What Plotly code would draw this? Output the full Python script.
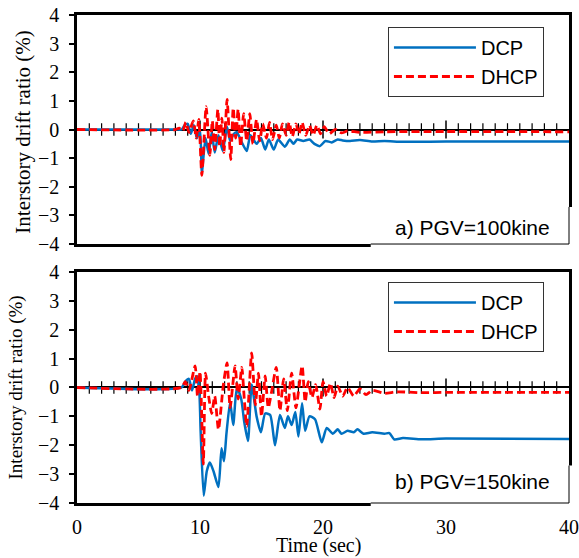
import plotly.graph_objects as go

# ---------------- data ----------------
# a) PGV = 100 kine
t_a_dcp = [0, 8.0, 8.5, 8.75, 9.0, 9.25, 9.5, 9.75, 10.0, 10.15,
           10.45, 10.7, 10.95, 11.2, 11.5, 11.85, 12.2, 12.45, 12.75, 13.0,
           13.4, 13.8, 14.1, 14.6, 14.95, 15.3, 15.6, 16.0, 16.35, 16.9,
           17.3, 17.6, 17.9, 18.4, 18.9, 19.3, 19.75, 20.2, 20.7, 21.2,
           21.6, 22.2, 23.0, 24.0, 25.0, 26.5, 30.0, 40.0]
v_a_dcp = [0, 0, 0.0, 0.15, 0.2, -0.15, 0.15, -0.3, 0.0, -1.5,
           -0.3, -0.85, -0.1, -0.8, -0.2, -0.75, 0.1, -0.4, -0.15, -0.1,
           -0.45, -0.75, -0.2, -0.5, -0.3, -0.7, -0.35, -0.7, -0.35, -0.6,
           -0.35, -0.5, -0.35, -0.4, -0.35, -0.5, -0.58, -0.4, -0.45, -0.35,
           -0.38, -0.4, -0.37, -0.42, -0.4, -0.43, -0.42, -0.42]

t_a_dhcp = [0, 8.0, 8.3, 8.6, 8.85, 9.1, 9.45, 9.7, 9.9, 10.15,
            10.5, 10.8, 11.0, 11.2, 11.45, 11.6, 11.78, 11.95, 12.2, 12.5,
            12.7, 12.9, 13.1, 13.3, 13.55, 13.8, 14.05, 14.3, 14.6, 14.85,
            15.1, 15.4, 15.65, 15.9, 16.2, 16.45, 16.7, 17.0, 17.25, 17.5,
            17.8, 18.05, 18.3, 18.6, 18.9, 19.2, 19.5, 19.8, 20.1, 20.5,
            21.0, 21.5, 22.0, 23.0, 25.0, 30.0, 40.0]
v_a_dhcp = [0, 0, 0.05, -0.05, 0.25, -0.1, 0.3, -0.3, 0.35, -1.6,
            0.8, -0.9, 0.3, -0.7, 0.7, -0.6, 0.4, -0.8, 1.05, -1.05,
            0.75, -0.3, 0.7, -0.6, 0.55, -0.4, 0.55, -0.5, 0.35, -0.4,
            0.2, -0.3, 0.25, -0.35, 0.15, -0.3, 0.2, -0.2, 0.25, -0.25,
            0.2, -0.15, 0.25, -0.2, 0.15, -0.2, 0.15, -0.15, 0.1, -0.15,
            0.0, -0.12, -0.05, -0.1, -0.08, -0.07, -0.08]

# b) PGV = 150 kine
t_b_dcp = [0, 8.5, 8.8, 9.1, 9.35, 9.6, 9.75, 9.95, 10.05, 10.3,
           10.55, 10.8, 11.1, 11.5, 11.75, 11.95, 12.15, 12.45, 12.7, 13.0,
           13.35, 13.6, 13.9, 14.2, 14.6, 14.95, 15.3, 15.7, 16.1, 16.5,
           16.9, 17.15, 17.45, 17.75, 18.0, 18.3, 18.55, 18.9, 19.35, 19.9,
           20.3, 20.8, 21.2, 21.5, 22.0, 22.5, 22.8, 23.3, 24.0, 25.0,
           25.4, 25.8, 26.5, 28.0, 30.0, 40.0]
v_b_dcp = [0, 0, 0.2, 0.3, -0.1, 0.3, 0.4, -0.2, -1.5, -3.75,
           -2.9, -2.6, -2.9, -3.45, -2.1, -2.55, -1.6, -0.5, -1.3, 0.0,
           -0.4, -1.2, -1.85, 0.1, -1.0, -1.55, -0.9, -0.95, -2.0, -0.95,
           -1.4, -1.0, -1.3, -0.85, -1.7, -0.55, -1.5, -1.0, -1.1, -1.9,
           -1.4, -1.6, -1.45, -1.6, -1.5, -1.55, -1.45, -1.6, -1.55, -1.6,
           -1.58, -1.8, -1.75, -1.79, -1.77, -1.78]

t_b_dhcp = [0, 8.5, 8.8, 9.1, 9.6, 9.8, 10.0, 10.27, 10.45, 10.7,
            10.95, 11.2, 11.5, 11.9, 12.2, 12.45, 12.85, 13.1, 13.4, 13.6,
            13.8, 14.2, 14.5, 14.75, 15.0, 15.3, 15.55, 15.8, 16.2, 16.5,
            16.8, 17.1, 17.45, 17.8, 18.3, 18.55, 18.8, 19.1, 19.4, 19.75,
            20.0, 20.3, 20.6, 20.9, 21.2, 21.6, 22.0, 22.5, 23.0, 23.5,
            24.0, 25.0, 26.0, 28.0, 30.0, 40.0]
v_b_dhcp = [0, 0.0, 0.2, -0.1, 0.75, -0.3, 0.55, -2.65, 0.5, -0.3,
            -0.9, -0.3, -1.45, 0.1, 0.85, -0.7, 0.75, -0.4, 0.7, -0.4,
            -1.35, 1.2, -0.6, 0.5, -1.0, 0.4, -0.7, -0.2, 0.7, -0.8,
            0.3, -0.8, 0.5, -0.7, 0.75, -0.5, 0.2, -0.35, 0.1, -0.75,
            0.2, -0.3, 0.15, -0.35, 0.05, -0.3, 0.0, -0.3, -0.05, -0.25,
            -0.1, -0.2, -0.15, -0.18, -0.17, -0.17]

x_ticks = [0, 10, 20, 30, 40]
y_ticks = [-4, -3, -2, -1, 0, 1, 2, 3, 4]
minor_ticks = [t for t in range(1, 40) if t % 10 != 0]
major_ticks = [10, 20, 30]
panel_labels = ["a) PGV=100kine", "b) PGV=150kine"]

BLUE = "#0070C0"
RED = "#FF0000"
SERIF = "Liberation Serif, Times New Roman, serif"
SANS = "Liberation Sans, Arial, sans-serif"

fig = go.Figure()

panels = [
    ("x", "y", "legend", t_a_dcp, v_a_dcp, t_a_dhcp, v_a_dhcp),
    ("x2", "y2", "legend2", t_b_dcp, v_b_dcp, t_b_dhcp, v_b_dhcp),
]
for xa, ya, lg, td, vd, th, vh in panels:
    # tick marks on the zero line
    fig.add_trace(go.Scatter(x=minor_ticks, y=[0] * len(minor_ticks), xaxis=xa, yaxis=ya,
                             mode="markers", showlegend=False, hoverinfo="skip",
                             marker=dict(symbol="line-ns", size=9,
                                         line=dict(width=1.2, color="black"))))
    fig.add_trace(go.Scatter(x=major_ticks, y=[0] * len(major_ticks), xaxis=xa, yaxis=ya,
                             mode="markers", showlegend=False, hoverinfo="skip",
                             marker=dict(symbol="line-ns", size=13,
                                         line=dict(width=1.5, color="black"))))
    fig.add_trace(go.Scatter(x=td, y=vd, xaxis=xa, yaxis=ya, name="DCP", legend=lg,
                             mode="lines",
                             line=dict(color=BLUE, width=2.5, shape="spline", smoothing=0.6)))
    fig.add_trace(go.Scatter(x=th, y=vh, xaxis=xa, yaxis=ya, name="DHCP", legend=lg,
                             mode="lines",
                             line=dict(color=RED, width=2.8, dash="8px,4px",
                                       shape="spline", smoothing=0.6)))

top_dom = [0.5307, 1.0]
bot_dom = [0.0, 0.4734]

common_x = dict(range=[0, 40], showgrid=False, zeroline=False, showline=True,
                mirror=True, linecolor="black", linewidth=2.5, ticks="",
                tickvals=x_ticks, tickfont=dict(family=SERIF, size=20, color="black"),
                ticklabelstandoff=4, automargin=False)
common_y = dict(range=[-4, 4], showgrid=False, zeroline=True, zerolinecolor="black",
                zerolinewidth=2, showline=True, mirror=True, linecolor="black",
                linewidth=2.5, ticks="outside", ticklen=5, tickwidth=1.5,
                tickcolor="black", tickvals=y_ticks,
                tickfont=dict(family=SERIF, size=20, color="black"),
                ticklabelstandoff=6, automargin=False)

legend_common = dict(bgcolor="white", bordercolor="#333333", borderwidth=1,
                     font=dict(family=SANS, size=20, color="black"),
                     itemwidth=82, xanchor="left", yanchor="top",
                     tracegroupgap=0)

fig.update_layout(
    width=579, height=558,
    margin=dict(l=77, r=10, t=15, b=55, autoexpand=False),
    paper_bgcolor="white", plot_bgcolor="white",
    xaxis=dict(common_x, domain=[0, 1], anchor="y", showticklabels=False),
    yaxis=dict(common_y, domain=top_dom, anchor="x"),
    xaxis2=dict(common_x, domain=[0, 1], anchor="y2", showticklabels=True),
    yaxis2=dict(common_y, domain=bot_dom, anchor="x2"),
    legend=dict(legend_common, x=0.632, y=0.9754),
    legend2=dict(legend_common, x=0.632, y=0.4529),
    showlegend=True,
)

# panel label boxes (white box interrupting frame, thin outline)
for i, (xr, yr) in enumerate([("x domain", "y domain"), ("x2 domain", "y2 domain")]):
    fig.add_shape(type="rect", xref=xr, yref=yr, x0=0.597, x1=1.01, y0=-0.015, y1=0.162,
                  fillcolor="white", line=dict(width=0), layer="above")
    fig.add_shape(type="line", xref=xr, yref=yr, x0=0.597, x1=1.0, y0=0, y1=0,
                  line=dict(width=1, color="black"), layer="above")
    fig.add_shape(type="line", xref=xr, yref=yr, x0=1.0, x1=1.0, y0=0, y1=0.162,
                  line=dict(width=1, color="black"), layer="above")
    fig.add_annotation(xref=xr, yref=yr, x=0.965, y=0.074 if i == 0 else 0.093,
                       xanchor="right", yanchor="middle", showarrow=False,
                       text=panel_labels[i],
                       font=dict(family=SANS, size=21, color="black"))

# y-axis titles
fig.add_annotation(xref="paper", yref="y domain", x=-0.11, y=0.49, xanchor="center",
                   yanchor="middle", textangle=-90, showarrow=False,
                   text="Interstory drift ratio (%)",
                   font=dict(family=SERIF, size=21, color="black"))
fig.add_annotation(xref="paper", yref="y2 domain", x=-0.122, y=0.5, xanchor="center",
                   yanchor="middle", textangle=-90, showarrow=False,
                   text="Interstory drift ratio (%)",
                   font=dict(family=SERIF, size=19, color="black"))
# x-axis title
fig.add_annotation(xref="x2 domain", yref="y2 domain", x=0.49, y=-0.186,
                   xanchor="center", yanchor="middle", showarrow=False,
                   text="Time (sec)", font=dict(family=SERIF, size=20, color="black"))

fig.write_html("out.html")
